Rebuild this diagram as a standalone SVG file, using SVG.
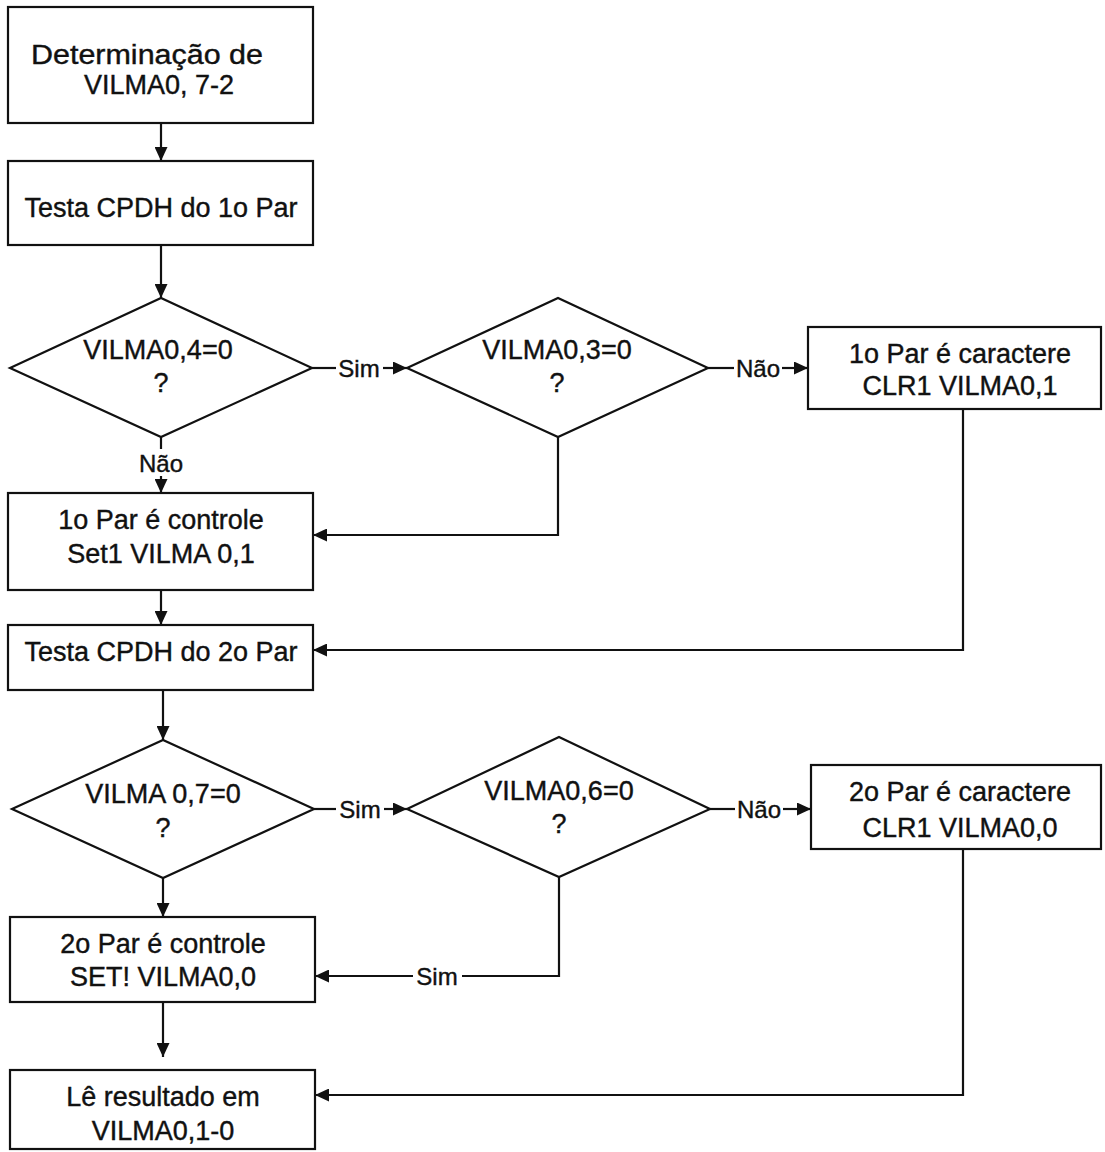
<svg xmlns="http://www.w3.org/2000/svg" width="1105" height="1152" viewBox="0 0 1105 1152">
<defs>
<marker id="arr" markerUnits="userSpaceOnUse" markerWidth="15" markerHeight="13" refX="14" refY="6.5" orient="auto">
<path d="M0,0 L14,6.5 L0,13 z" fill="#111"/>
</marker>
<style>
.shape{fill:#fff;stroke:#111;stroke-width:2.2}
.t{font-family:"Liberation Sans",Arial,sans-serif;font-size:27px;fill:#111;stroke:#111;stroke-width:0.4;text-anchor:middle}
.lbl{font-family:"Liberation Sans",Arial,sans-serif;font-size:24px;fill:#111;stroke:#111;stroke-width:0.4;text-anchor:middle}
.c{fill:none;stroke:#111;stroke-width:2.2}
</style>
</defs>
<rect width="1105" height="1152" fill="#fff"/>
<g id="connectors">
<line class="c" x1="161" y1="123" x2="161" y2="161" marker-end="url(#arr)"/>
<line class="c" x1="161" y1="245" x2="161" y2="298" marker-end="url(#arr)"/>
<line class="c" x1="161" y1="437" x2="161" y2="449"/>
<text class="lbl" x="161" y="472">Não</text>
<line class="c" x1="161" y1="476" x2="161" y2="493" marker-end="url(#arr)"/>
<line class="c" x1="312" y1="368" x2="336" y2="368"/>
<text class="lbl" x="359" y="377">Sim</text>
<line class="c" x1="383" y1="368" x2="407" y2="368" marker-end="url(#arr)"/>
<line class="c" x1="708" y1="368" x2="734" y2="368"/>
<text class="lbl" x="758" y="377">Não</text>
<line class="c" x1="782" y1="368" x2="808" y2="368" marker-end="url(#arr)"/>
<polyline class="c" points="558,437 558,535 313,535" marker-end="url(#arr)"/>
<polyline class="c" points="963,409 963,650 313,650" marker-end="url(#arr)"/>
<line class="c" x1="161" y1="590" x2="161" y2="625" marker-end="url(#arr)"/>
<line class="c" x1="163" y1="690" x2="163" y2="740" marker-end="url(#arr)"/>
<line class="c" x1="314" y1="809" x2="336" y2="809"/>
<text class="lbl" x="360" y="818">Sim</text>
<line class="c" x1="384" y1="809" x2="407" y2="809" marker-end="url(#arr)"/>
<line class="c" x1="710" y1="809" x2="735" y2="809"/>
<text class="lbl" x="759" y="818">Não</text>
<line class="c" x1="783" y1="809" x2="811" y2="809" marker-end="url(#arr)"/>
<line class="c" x1="163" y1="878" x2="163" y2="917" marker-end="url(#arr)"/>
<polyline class="c" points="559,877 559,976 462,976"/>
<text class="lbl" x="437" y="985">Sim</text>
<line class="c" x1="413" y1="976" x2="315" y2="976" marker-end="url(#arr)"/>
<line class="c" x1="163" y1="1002" x2="163" y2="1057" marker-end="url(#arr)"/>
<polyline class="c" points="963,849 963,1095 315,1095" marker-end="url(#arr)"/>
</g>
<g id="n1">
<rect class="shape" x="8" y="7" width="305" height="116"/>
<text class="t" x="147" y="64" textLength="232" lengthAdjust="spacingAndGlyphs">Determinação de</text>
<text class="t" x="159" y="94">VILMA0, 7-2</text>
</g>
<g id="n2">
<rect class="shape" x="8" y="161" width="305" height="84"/>
<text class="t" x="161" y="217">Testa CPDH do 1o Par</text>
</g>
<g id="d1">
<polygon class="shape" points="10,368 161,298 312,368 161,437"/>
<text class="t" x="158" y="359">VILMA0,4=0</text>
<text class="t" x="161" y="392">?</text>
</g>
<g id="d2">
<polygon class="shape" points="407,368 558,298 708,368 558,437"/>
<text class="t" x="557" y="359">VILMA0,3=0</text>
<text class="t" x="557" y="392">?</text>
</g>
<g id="n4">
<rect class="shape" x="808" y="327" width="293" height="82"/>
<text class="t" x="960" y="363">1o Par é caractere</text>
<text class="t" x="960" y="395">CLR1 VILMA0,1</text>
</g>
<g id="n3">
<rect class="shape" x="8" y="493" width="305" height="97"/>
<text class="t" x="161" y="529">1o Par é controle</text>
<text class="t" x="161" y="563">Set1 VILMA 0,1</text>
</g>
<g id="n5">
<rect class="shape" x="8" y="625" width="305" height="65"/>
<text class="t" x="161" y="661">Testa CPDH do 2o Par</text>
</g>
<g id="d3">
<polygon class="shape" points="12,809 163,740 314,809 163,878"/>
<text class="t" x="163" y="803">VILMA 0,7=0</text>
<text class="t" x="163" y="837">?</text>
</g>
<g id="d4">
<polygon class="shape" points="407,809 559,737 710,809 559,877"/>
<text class="t" x="559" y="800">VILMA0,6=0</text>
<text class="t" x="559" y="833">?</text>
</g>
<g id="n6">
<rect class="shape" x="811" y="765" width="290" height="84"/>
<text class="t" x="960" y="801">2o Par é caractere</text>
<text class="t" x="960" y="837">CLR1 VILMA0,0</text>
</g>
<g id="n7">
<rect class="shape" x="10" y="917" width="305" height="85"/>
<text class="t" x="163" y="953">2o Par é controle</text>
<text class="t" x="163" y="986">SET! VILMA0,0</text>
</g>
<g id="n8">
<rect class="shape" x="10" y="1070" width="305" height="79"/>
<text class="t" x="163" y="1106">Lê resultado em</text>
<text class="t" x="163" y="1140">VILMA0,1-0</text>
</g>
</svg>
